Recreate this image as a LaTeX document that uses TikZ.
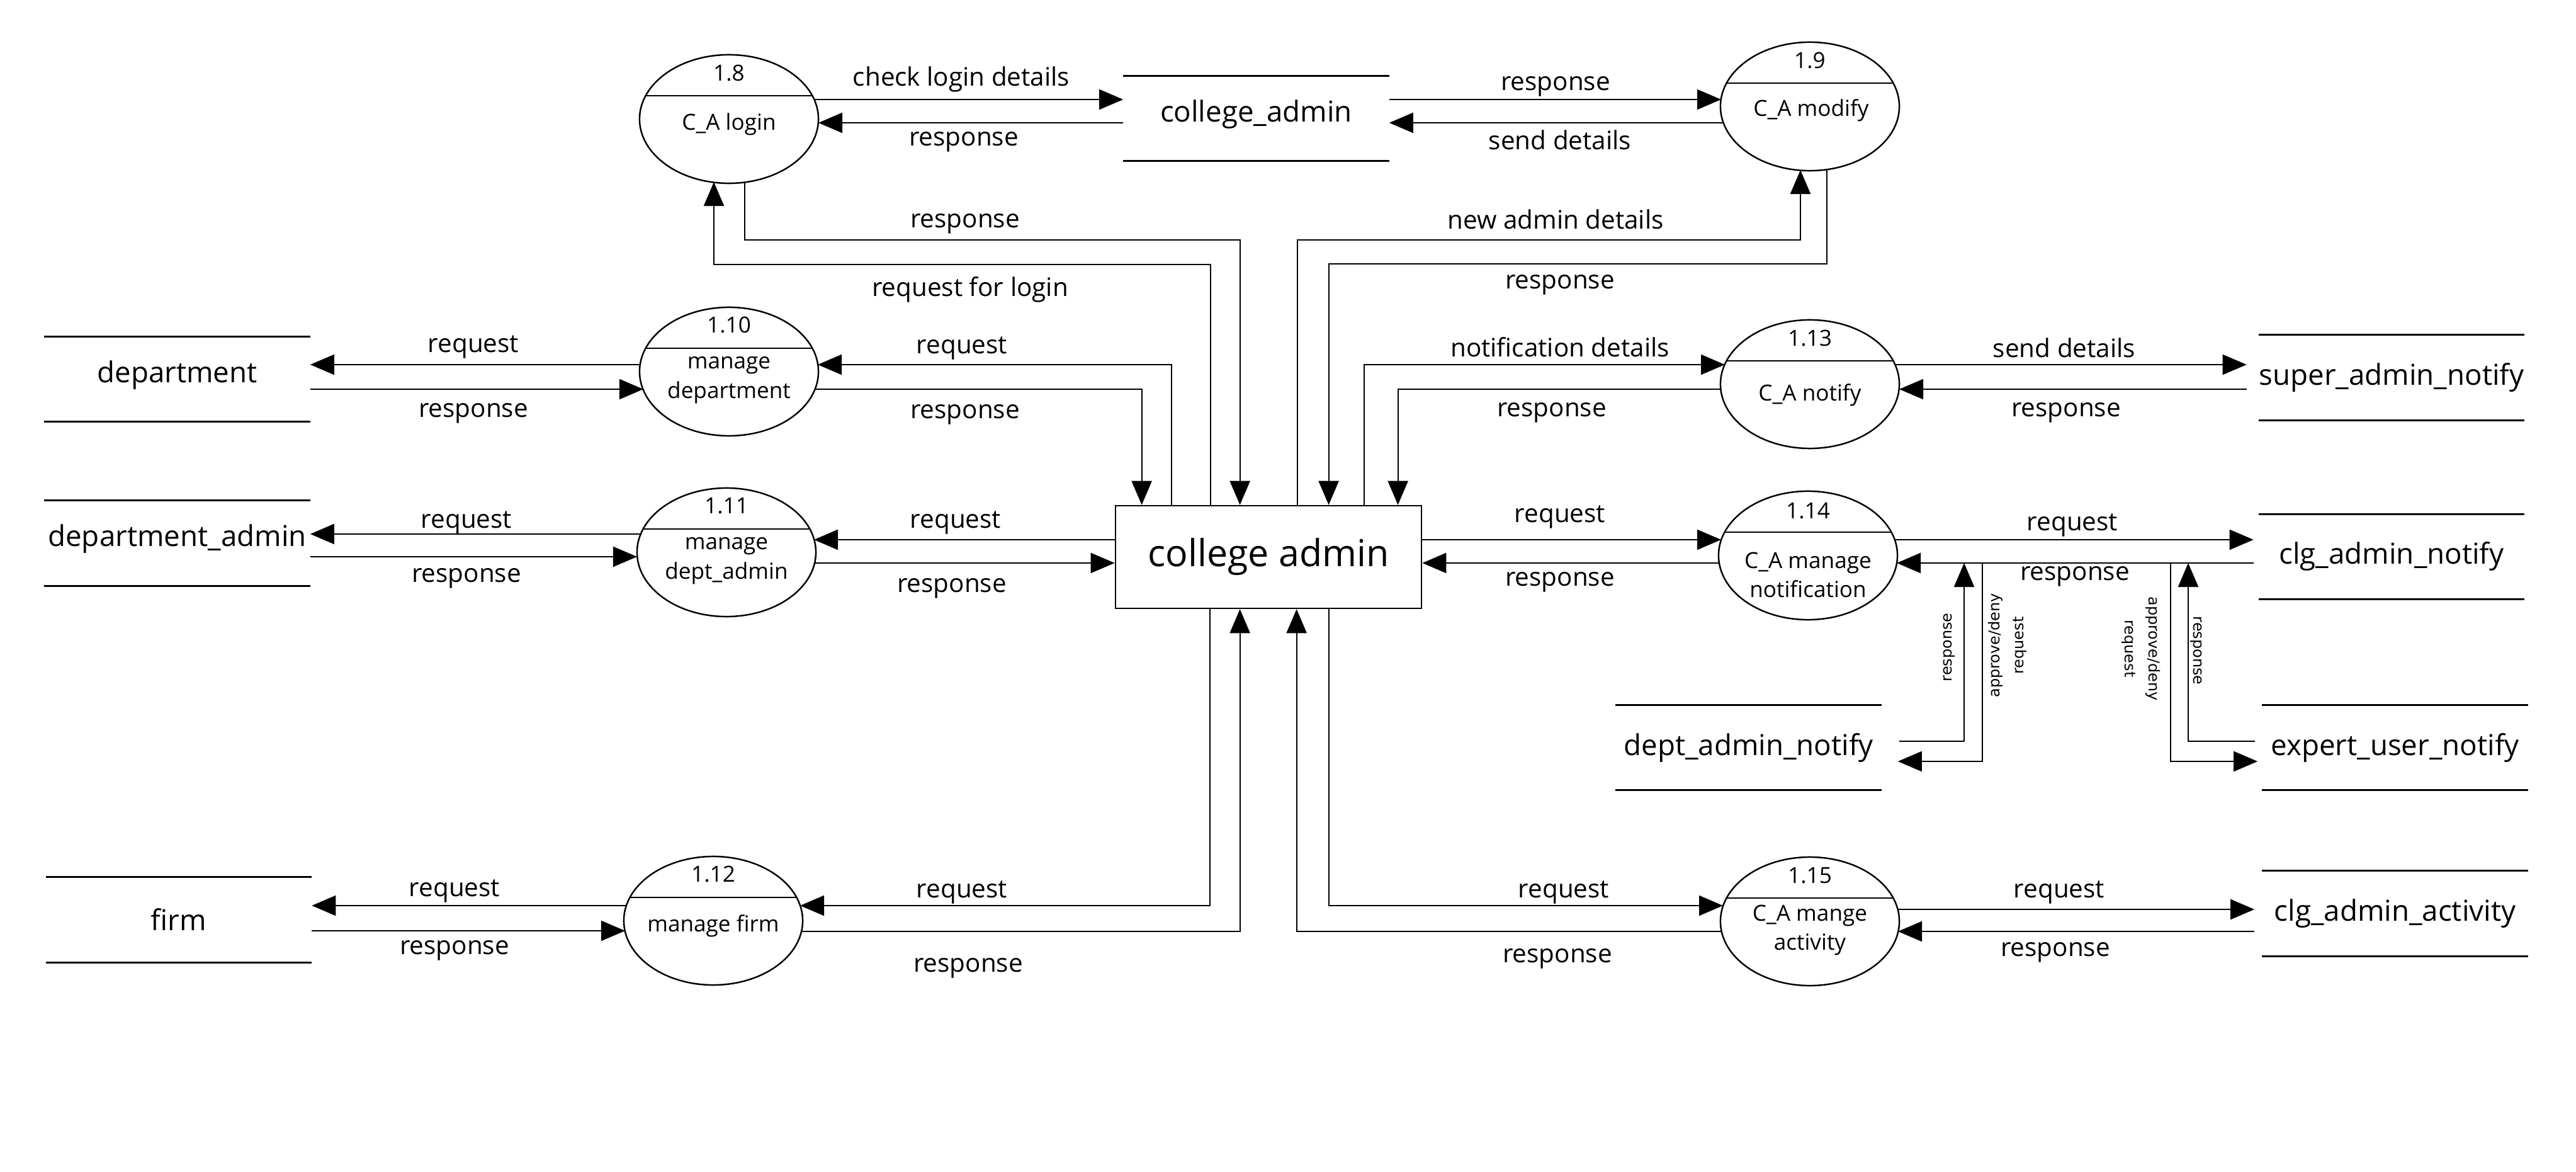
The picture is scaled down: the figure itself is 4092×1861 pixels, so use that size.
\documentclass[tikz,border=0pt]{standalone}
\usepackage{fontspec}
\setmainfont{Open Sans}
\newfontfamily\rotfont{DejaVu Sans}
\usetikzlibrary{shapes.geometric,arrows.meta,calc}
\begin{document}
\begin{tikzpicture}[x=0.01cm, y=-0.01cm,
  proc/.style={ellipse, draw, line width=0.7pt, minimum width=2.84cm, minimum height=2.04cm, inner sep=0},
  divider/.style={line width=0.7pt},
  centralbox/.style={draw, line width=0.7pt, minimum width=4.86cm, minimum height=1.63cm, inner sep=0, font=\fontsize{16.8}{20}\selectfont},
  storebase/.style={minimum width=4.21cm, minimum height=1.34cm, inner sep=0, font=\fontsize{13}{15}\selectfont},
  store/.style={storebase, text height=8pt, text depth=5.1pt},
  storeline/.style={line width=0.9pt},
  flow/.style={line width=0.6pt, -{Triangle[length=0.38cm,width=0.32cm]}},
  lbl/.style={inner sep=0, font=\fontsize{11.5}{13}\selectfont},
  ptxt/.style={inner sep=0, align=center, font=\fontsize{10}{13.3}\selectfont},
  vlbl/.style={inner sep=0, align=center, font=\rotfont\fontsize{6.8}{10.8}\selectfont}
]
\fill[white] (0,0) rectangle (4092,1861);
\useasboundingbox (0,0) rectangle (4092,1861);

% central entity
\node[centralbox] (ca) at (2015,884.5) {college admin};

% data stores
\node[store] (cas) at (1995.5,188) {college\_admin};
\node[store] (dep) at (281.5,602) {department};
\node[store] (dadm) at (281.5,862.5) {department\_admin};
\node[storebase] (firm) at (284,1460.5) {firm};
\node[storebase] (san) at (3799,599.5) {super\_admin\_notify};
\node[storebase] (cln) at (3799,884) {clg\_admin\_notify};
\node[storebase] (dan) at (2777.5,1187) {dept\_admin\_notify};
\node[storebase] (eun) at (3804.5,1187) {expert\_user\_notify};
\node[storebase] (caa) at (3804.5,1450.5) {clg\_admin\_activity};
\foreach \s in {cas,dep,dadm,firm,san,cln,dan,eun,caa}
  \draw[storeline] (\s.north west) -- (\s.north east) (\s.south west) -- (\s.south east);

% processes
\node[proc] (p8) at (1158,189) {};
\node[proc] (p9) at (2875,169) {};
\node[proc] (p10) at (1158,590) {};
\node[proc] (p11) at (1154,877) {};
\node[proc] (p12) at (1133,1462) {};
\node[proc] (p13) at (2875,610) {};
\node[proc] (p14) at (2872,882) {};
\node[proc] (p15) at (2875,1463) {};
\foreach \p in {p8,p9,p10,p11,p12,p13,p14,p15}
  \draw[divider] ($(\p.center)+(-132,-37)$) -- ($(\p.center)+(132,-37)$);

\node[ptxt] (n8) at ($(p8.center)+(0,-73)$) {1.8};
\node[ptxt] (t8) at ($(p8.center)+(0,8)$) {C\_A login};
\node[ptxt] (n9) at ($(p9.center)+(0,-73)$) {1.9};
\node[ptxt] (t9) at ($(p9.center)+(2,6)$) {C\_A modify};
\node[ptxt] (n10) at ($(p10.center)+(0,-74)$) {1.10};
\node[ptxt] (t10) at ($(p10.center)+(0,14)$) {manage\\department};
\node[ptxt] (n11) at ($(p11.center)+(0,-74)$) {1.11};
\node[ptxt] (t11) at ($(p11.center)+(0,14)$) {manage\\dept\_admin};
\node[ptxt] (n12) at ($(p12.center)+(0,-74)$) {1.12};
\node[ptxt] (t12) at ($(p12.center)+(0,8)$) {manage firm};
\node[ptxt] (n13) at ($(p13.center)+(0,-73)$) {1.13};
\node[ptxt] (t13) at ($(p13.center)+(0,17)$) {C\_A notify};
\node[ptxt] (n14) at ($(p14.center)+(0,-71)$) {1.14};
\node[ptxt] (t14) at ($(p14.center)+(0,31)$) {C\_A manage\\notification};
\node[ptxt] (n15) at ($(p15.center)+(0,-73)$) {1.15};
\node[ptxt] (t15) at ($(p15.center)+(0,14)$) {C\_A mange\\activity};

% top-left: 1.8
\draw[flow] ($(p8.center)+(135,-31)$) -- ($(cas.west)+(0,-30)$);
\draw[flow] ($(cas.west)+(0,7)$) -- ($(p8.center)+(142,6)$);
\draw[flow] ($(p8.center)+(25,100)$) -- ++(0,92) -| ($(ca.north west)+(199,0)$);
\draw[flow] ($(ca.north west)+(152,0)$) -- ++(0,-382) -| ($(p8.center)+(-24,100)$);
% top-right: 1.9
\draw[flow] ($(cas.east)+(0,-30)$) -- ($(p9.center)+(-141,-11)$);
\draw[flow] ($(p9.center)+(-137,26)$) -- ($(cas.east)+(0,7)$);
\draw[flow] ($(ca.north west)+(290,0)$) -- ++(0,-421) -| ($(p9.center)+(-15,101)$);
\draw[flow] ($(p9.center)+(27,100)$) -- ++(0,150) -| ($(ca.north west)+(340,0)$);
% 1.10
\draw[flow] ($(ca.north west)+(90,0)$) |- ($(p10.center)+(141,-11)$);
\draw[flow] ($(p10.center)+(136,28)$) -| ($(ca.north west)+(43,0)$);
\draw[flow] ($(p10.center)+(-141,-11)$) -- ($(dep.east)+(0,-23)$);
\draw[flow] ($(dep.east)+(0,16)$) -- ($(p10.center)+(-136,28)$);
% 1.11
\draw[flow] ($(ca.west)+(0,-27.5)$) -- ($(p11.center)+(139,-20)$);
\draw[flow] ($(p11.center)+(140,17)$) -- ($(ca.west)+(0,9.5)$);
\draw[flow] ($(p11.center)+(-136,-29)$) -- ($(dadm.east)+(0,-14.5)$);
\draw[flow] ($(dadm.east)+(0,21.5)$) -- ($(p11.center)+(-142,7)$);
% 1.12
\draw[flow] ($(ca.south west)+(151,0)$) |- ($(p12.center)+(138,-24)$);
\draw[flow] ($(p12.center)+(140,17)$) -| ($(ca.south west)+(199,0)$);
\draw[flow] ($(p12.center)+(-138,-24)$) -- ($(firm.east)+(0,-22.5)$);
\draw[flow] ($(firm.east)+(0,17.5)$) -- ($(p12.center)+(-140,16)$);
% 1.15
\draw[flow] ($(ca.south west)+(340,0)$) |- ($(p15.center)+(-138,-25)$);
\draw[flow] ($(p15.center)+(-140,16)$) -| ($(ca.south west)+(289,0)$);
\draw[flow] ($(p15.center)+(139,-19)$) -- ($(caa.west)+(-12,-6.5)$);
\draw[flow] ($(caa.west)+(-12,28.5)$) -- ($(p15.center)+(140,16)$);
% 1.13
\draw[flow] ($(ca.north west)+(396,0)$) |- ($(p13.center)+(-135,-31)$);
\draw[flow] ($(p13.center)+(-142,8)$) -| ($(ca.north west)+(450,0)$);
\draw[flow] ($(p13.center)+(137,-31)$) -- ($(san.west)+(-19,-20.5)$);
\draw[flow] ($(san.west)+(-19,18.5)$) -- ($(p13.center)+(142,8)$);
% 1.14
\draw[flow] ($(ca.east)+(0,-27.5)$) -- ($(p14.center)+(-138,-25)$);
\draw[flow] ($(p14.center)+(-141,12)$) -- ($(ca.east)+(0,9.5)$);
\draw[flow] ($(p14.center)+(138,-25)$) -- ($(cln.west)+(-8,-27)$);
\draw[flow] ($(cln.west)+(-8,10)$) -- ($(p14.center)+(141,12)$);
\draw[flow] ($(dan.east)+(28,-10)$) -| ($(p14.center)+(248,12)$);
\draw[flow] ($(p14.center)+(277,12)$) |- ($(dan.east)+(26,22)$);
\draw[flow] ($(p14.center)+(576,12)$) |- ($(eun.west)+(-7,22)$);
\draw[flow] ($(eun.west)+(-11,-10)$) -| ($(p14.center)+(604,12)$);

% connector labels
\node[lbl] (l1) at (1527,126) {check login details};
\node[lbl] (l2) at (1531,225) {response};
\node[lbl] (l3) at (1533,355) {response};
\node[lbl] (l4) at (1541,460) {request for login};
\node[lbl] (l5) at (2471,137) {response};
\node[lbl] (l6) at (2478,222) {send details};
\node[lbl] (l7) at (2471,348) {new admin details};
\node[lbl] (l8) at (2478,452) {response};
\node[lbl] (l9) at (1528,553) {request};
\node[lbl] (l10) at (1533,658) {response};
\node[lbl] (l11) at (752,551) {request};
\node[lbl] (l12) at (752,656) {response};
\node[lbl] (l13) at (1518,830) {request};
\node[lbl] (l14) at (1512,934) {response};
\node[lbl] (l15) at (741,830) {request};
\node[lbl] (l16) at (741,918) {response};
\node[lbl] (l17) at (1528,1417) {request};
\node[lbl] (l18) at (1538,1537) {response};
\node[lbl] (l19) at (722,1415) {request};
\node[lbl] (l20) at (722,1509) {response};
\node[lbl] (l21) at (2484,1417) {request};
\node[lbl] (l22) at (2474,1522) {response};
\node[lbl] (l23) at (3271,1417) {request};
\node[lbl] (l24) at (3265,1512) {response};
\node[lbl] (l25) at (2478,551) {notification details};
\node[lbl] (l26) at (2465,655) {response};
\node[lbl] (l27) at (3279,552) {send details};
\node[lbl] (l28) at (3282,655) {response};
\node[lbl] (l29) at (2478,821) {request};
\node[lbl] (l30) at (2478,924) {response};
\node[lbl] (l31) at (3292,834) {request};
\node[lbl] (l32) at (3296,915) {response};

% vertical labels
\node[vlbl, rotate=90] (v1) at (3096,1028) {response};
\node[vlbl, rotate=90] (v2) at (3189,1025) {approve/deny\\request};
\node[vlbl, rotate=-90] (v3) at (3401,1030) {approve/deny\\request};
\node[vlbl, rotate=-90] (v4) at (3489,1033) {response};
\end{tikzpicture}
\end{document}
